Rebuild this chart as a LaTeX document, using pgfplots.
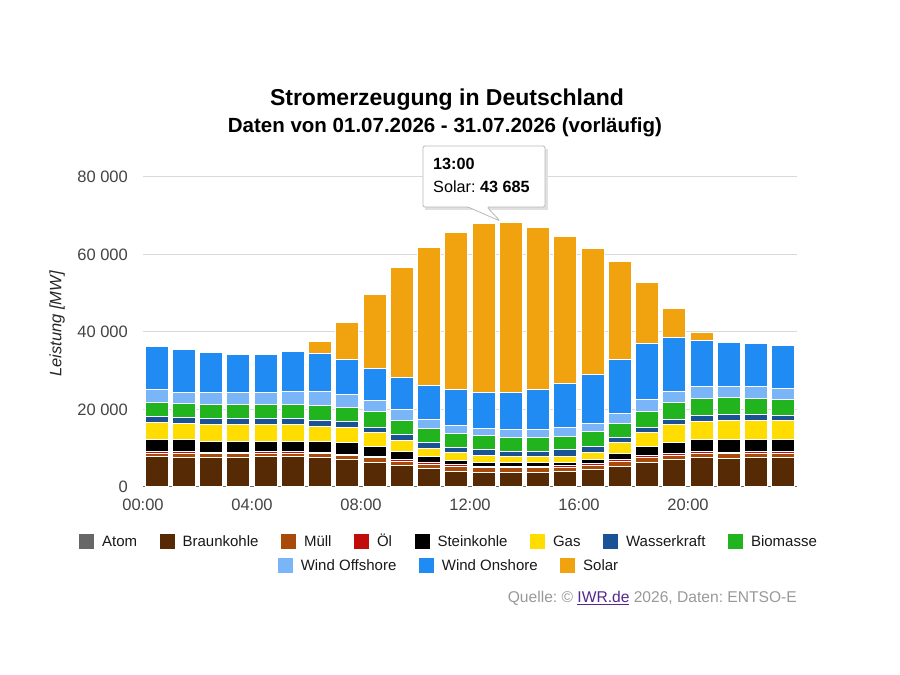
\documentclass[border=0pt]{standalone}
\usepackage{fontspec}
\setmainfont{Liberation Sans}
\usepackage{pgfplots}
\pgfplotsset{compat=1.18}
\usepackage{pgfplotstable}
\frenchspacing

\definecolor{cAtom}{HTML}{676767}
\definecolor{cBraun}{HTML}{552A05}
\definecolor{cMuell}{HTML}{A84B0A}
\definecolor{cOel}{HTML}{C20B0B}
\definecolor{cStein}{HTML}{000000}
\definecolor{cGas}{HTML}{FFDD00}
\definecolor{cWasser}{HTML}{1A5296}
\definecolor{cBio}{HTML}{21B41F}
\definecolor{cWOff}{HTML}{7AB6F7}
\definecolor{cWOn}{HTML}{1F8BF3}
\definecolor{cSolar}{HTML}{F1A30F}
\definecolor{gridc}{HTML}{D9D9D9}
\definecolor{axisc}{HTML}{6B6B6B}
\definecolor{tickc}{HTML}{444444}
\definecolor{srcc}{HTML}{999999}
\definecolor{linkc}{HTML}{56268E}

\pgfplotstableread{
h    Atom Braun Muell Oel Stein Gas  Wasser Bio  WOff WOn   Solar
0.5  0    7870  900   390 3020  4540 1470   3540 3350 11180 0
1.5  0    7690  1000  470 3020  4280 1400   3610 2990 11020 0
2.5  0    7540  1000  440 2760  4470 1390   3610 3100 10480 0
3.5  0    7600  1000  400 2740  4470 1390   3600 3100 9900  0
4.5  0    7800  950   410 2580  4470 1390   3600 3100 9970  0
5.5  0    7800  950   410 2580  4470 1390   3600 3370 10330 250
6.5  0    7540  1100  340 2760  3950 1470   3870 3540 9960  3020
7.5  0    7100  1000  360 2940  4030 1370   3800 3270 8930  9700
8.5  0    6400  1100  450 2500  3550 1430   4050 2770 8250  19100
9.5  0    5550  1100  450 2140  2760 1470   3690 2760 8260  28420
10.5 0    4700  1100  520 1550  1990 1540   3600 2420 8780  35700
11.5 0    4000  1200  530 1030  2070 1440   3610 2070 9210  40440
12.5 0    3820  1100  450 880   1880 1470   3690 1880 9290  43440
13.5 0    3820  1100  450 880   1700 1290   3610 1990 9620  43685
14.5 0    3820  1100  450 880   1700 1290   3610 1990 10400 41660
15.5 0    4080  1050  420 700   1700 1650   3500 2330 11200 37970
16.5 0    4440  1100  450 1110  1730 1620   3950 2060 12490 32650
17.5 0    5290  1200  530 1700  2840 1290   3610 2590 13750 25500
18.5 0    6400  1200  530 2320  3690 1290   4050 3020 14450 15950
19.5 0    7020  1200  500 2680  4730 1370   4230 2920 13850 7600
20.5 0    7540  1150  470 3020  4720 1470   4390 3180 11860 2150
21.5 0    7430  1100  450 3200  4980 1470   4370 2940 11260 400
22.5 0    7690  1050  420 3020  4980 1470   4130 3180 11010 150
23.5 0    7690  1050  420 3020  4980 1290   4050 3000 11000 0
}\data

\newcommand{\legitem}[2]{\textcolor{#1}{\rule[-2.1pt]{15pt}{15pt}}\hspace{8pt}#2}

\begin{document}
\begin{tikzpicture}
\fill[white] (0pt,0pt) rectangle (900pt,675pt);
\begin{axis}[
  at={(143pt,188pt)}, anchor=south west,
  scale only axis, width=654pt, height=310pt,
  ybar stacked, bar width=0.84,
  xmin=0, xmax=24, ymin=0, ymax=80000,
  scaled y ticks=false,
  xtick={0,4,8,12,16,20},
  xticklabels={00:00,04:00,08:00,12:00,16:00,20:00},
  ytick={0,20000,40000,60000,80000},
  yticklabels={0,20 000,40 000,60 000,80 000},
  major tick length=0pt,
  axis x line*=bottom, axis y line*=left,
  axis line style={draw=none},
  ymajorgrids, grid style={draw=gridc, line width=1pt},
  tick label style={font=\fontsize{16.5}{19}\selectfont, text=tickc},
  yticklabel style={inner sep=0pt, xshift=-15pt},
  xticklabel style={inner sep=0pt, yshift=-12pt},
  every axis plot/.append style={draw=white, line width=1pt},
]
\addplot[fill=cAtom, draw=none] table[x=h,y=Atom]{\data};
\addplot[fill=cBraun] table[x=h,y=Braun]{\data};
\addplot[fill=cMuell] table[x=h,y=Muell]{\data};
\addplot[fill=cOel] table[x=h,y=Oel]{\data};
\addplot[fill=cStein] table[x=h,y=Stein]{\data};
\addplot[fill=cGas] table[x=h,y=Gas]{\data};
\addplot[fill=cWasser] table[x=h,y=Wasser]{\data};
\addplot[fill=cBio] table[x=h,y=Bio]{\data};
\addplot[fill=cWOff] table[x=h,y=WOff]{\data};
\addplot[fill=cWOn] table[x=h,y=WOn]{\data};
\addplot[fill=cSolar] table[x=h,y=Solar]{\data};
\draw[draw=gray!55, line width=1.3pt] (axis cs:13.08,24460) rectangle (axis cs:13.92,68145);
\draw[draw=axisc, line width=1.6pt] (rel axis cs:0,0) -- (rel axis cs:1,0);
\end{axis}

% titles
\node[anchor=base] at (447pt,569pt) {\fontsize{23}{27}\selectfont\bfseries Stromerzeugung in Deutschland};
\node[anchor=base] at (445pt,542pt) {\fontsize{20.5}{24}\selectfont\bfseries Daten von 01.07.2026 - 31.07.2026 (vorläufig)};

% y label
\node[rotate=90, text=black!85] at (57pt,351pt) {\fontsize{16.5}{19}\selectfont\itshape Leistung [MW]};

% legend
\node[anchor=base, inner sep=0pt, text=black!90] at (448pt,128pt) {\fontsize{15}{18}\selectfont
 \legitem{cAtom}{Atom}\hspace{22.5pt}\legitem{cBraun}{Braunkohle}\hspace{22.5pt}\legitem{cMuell}{Müll}\hspace{22.5pt}\legitem{cOel}{Öl}\hspace{22.5pt}\legitem{cStein}{Steinkohle}\hspace{22.5pt}\legitem{cGas}{Gas}\hspace{22.5pt}\legitem{cWasser}{Wasserkraft}\hspace{22.5pt}\legitem{cBio}{Biomasse}};
\node[anchor=base, inner sep=0pt, text=black!90] at (448pt,104.5pt) {\fontsize{15}{18}\selectfont
 \legitem{cWOff}{Wind Offshore}\hspace{22.5pt}\legitem{cWOn}{Wind Onshore}\hspace{22.5pt}\legitem{cSolar}{Solar}};

% source
\node[anchor=base east, inner sep=0pt, text=srcc] at (797pt,72pt) {\fontsize{15.6}{18}\selectfont Quelle: © \textcolor{linkc}{\underline{IWR.de}} 2026, Daten: ENTSO-E};

% tooltip
\fill[black!12] (425pt,526pt) -- (548pt,526pt) -- (548pt,465pt) -- (425pt,465pt) -- cycle;
\draw[fill=white, draw=gray!55, line width=0.8pt, rounded corners=1.5pt] (423pt,529pt) -- (545pt,529pt) -- (545pt,468pt) -- (487pt,468pt) -- (500pt,454pt) -- (468pt,468pt) -- (423pt,468pt) -- cycle;
\node[anchor=base west, inner sep=0pt] at (433pt,505pt) {\fontsize{16.2}{19}\selectfont\bfseries 13:00};
\node[anchor=base west, inner sep=0pt] at (433pt,482.5pt) {\fontsize{16.2}{19}\selectfont Solar: \textbf{43 685}};

\pgfresetboundingbox
\path (0pt,0pt) rectangle (900pt,675pt);
\end{tikzpicture}
\end{document}
